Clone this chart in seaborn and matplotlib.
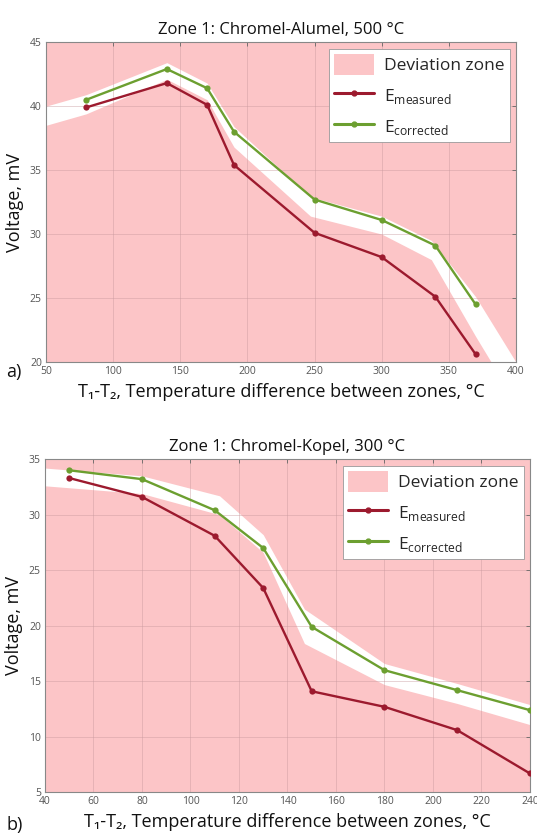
import numpy as np
import pandas as pd
import matplotlib
matplotlib.use('Agg')
import matplotlib.pyplot as plt
import seaborn as sns
from matplotlib.patches import Patch
from matplotlib.lines import Line2D

# --- DATOS: panel a) Chromel-Alumel, 500 °C ---
a_dt = [80, 140, 170, 190, 250, 300, 340, 370]
a_measured = [39.9, 41.8, 40.1, 35.4, 30.1, 28.2, 25.1, 20.6]
a_corrected = [40.5, 42.9, 41.4, 38.0, 32.7, 31.1, 29.1, 24.5]
a_band_x = [50, 80, 140, 170, 190, 247, 300, 337, 370, 400]
a_band_hi = [40.0, 40.9, 43.4, 41.8, 38.4, 32.9, 31.4, 29.5, 25.1, 20.0]
a_band_lo = [38.5, 39.4, 42.1, 40.5, 36.8, 31.4, 30.0, 28.0, 22.0, 16.8]

# --- DATOS: panel b) Chromel-Kopel, 300 °C ---
b_dt = [50, 80, 110, 130, 150, 180, 210, 240]
b_measured = [33.3, 31.6, 28.1, 23.4, 14.1, 12.7, 10.6, 6.7]
b_corrected = [34.0, 33.2, 30.4, 27.0, 19.9, 16.0, 14.2, 12.4]
b_band_x = [40, 80, 112, 130, 147, 180, 210, 240]
b_band_hi = [34.2, 33.5, 31.7, 28.2, 21.5, 16.6, 14.8, 12.9]
b_band_lo = [32.6, 31.9, 30.0, 26.6, 18.4, 14.7, 13.0, 11.1]

PINK = '#fcc5c7'
RED = '#9c1a2e'
GREEN = '#6c9f30'
FONT = ['Open Sans', 'DejaVu Sans']

sns.set_theme(style='whitegrid')
plt.rcParams['font.family'] = FONT
plt.rcParams['mathtext.fontset'] = 'custom'
plt.rcParams['mathtext.rm'] = 'Open Sans'


def dibujar_panel(ax, dt, meas, corr, bx, bhi, blo, xlim, ylim, xticks, yticks, titulo):
    ax.set_facecolor(PINK)
    ax.fill_between(bx, blo, bhi, color='white', lw=0, zorder=0.3)
    df = pd.DataFrame({'dt': dt, 'meas': meas, 'corr': corr})
    sns.lineplot(data=df, x='dt', y='meas', ax=ax, color=RED, marker='o',
                 markersize=4.5, markeredgewidth=0, linewidth=1.7, zorder=3)
    sns.lineplot(data=df, x='dt', y='corr', ax=ax, color=GREEN, marker='o',
                 markersize=4.5, markeredgewidth=0, linewidth=1.7, zorder=3)
    ax.set_xlim(*xlim)
    ax.set_ylim(*ylim)
    ax.set_xticks(xticks)
    ax.set_yticks(yticks)
    ax.set_axisbelow(True)
    ax.grid(True, color='#c89a9e', linewidth=0.6, alpha=0.5)
    ax.tick_params(direction='in', top=True, right=True, length=3, width=0.6,
                   labelsize=7.5, labelcolor='#555555', color='#666666', pad=3)
    for s in ax.spines.values():
        s.set_color('#888888')
        s.set_linewidth(0.8)
    ax.set_title(titulo, fontsize=12, color='#111111', pad=6)
    ax.set_xlabel('T\u2081-T\u2082, Temperature difference between zones, \u00b0C',
                  fontsize=13, color='#111111', labelpad=4)
    ax.set_ylabel('Voltage, mV', fontsize=13, color='#111111', labelpad=4)
    handles = [
        Patch(facecolor=PINK, edgecolor='none', label='Deviation zone'),
        Line2D([0], [0], color=RED, marker='o', markersize=3.5, lw=2.2,
               label=r'E$_{\mathrm{measured}}$'),
        Line2D([0], [0], color=GREEN, marker='o', markersize=3.5, lw=2.2,
               label=r'E$_{\mathrm{corrected}}$'),
    ]
    leg = ax.legend(handles=handles, loc='upper right', fontsize=12.5,
                    frameon=True, fancybox=False, framealpha=1,
                    edgecolor='#999999', borderpad=0.3, labelspacing=0.55,
                    handlelength=2.3, handleheight=1.5, handletextpad=0.6,
                    bbox_to_anchor=(0.995, 0.99), borderaxespad=0.2)
    leg.get_frame().set_linewidth(0.6)


fig = plt.figure(figsize=(5.37, 8.35), dpi=100)
ax_a = fig.add_axes([0.0857, 0.5665, 0.875, 0.383])
ax_b = fig.add_axes([0.0838, 0.0511, 0.903, 0.399])

dibujar_panel(ax_a, a_dt, a_measured, a_corrected, a_band_x, a_band_hi, a_band_lo,
              (50, 400), (20, 45), range(50, 401, 50), range(20, 46, 5),
              'Zone 1: Chromel-Alumel, 500 \u00b0C')
dibujar_panel(ax_b, b_dt, b_measured, b_corrected, b_band_x, b_band_hi, b_band_lo,
              (40, 240), (5, 35), range(40, 241, 20), range(5, 36, 5),
              'Zone 1: Chromel-Kopel, 300 \u00b0C')

fig.text(0.012, 0.548, 'a)', fontsize=13, color='#111111')
fig.text(0.012, 0.006, 'b)', fontsize=13, color='#111111')

fig.savefig('out.png', dpi=100)
